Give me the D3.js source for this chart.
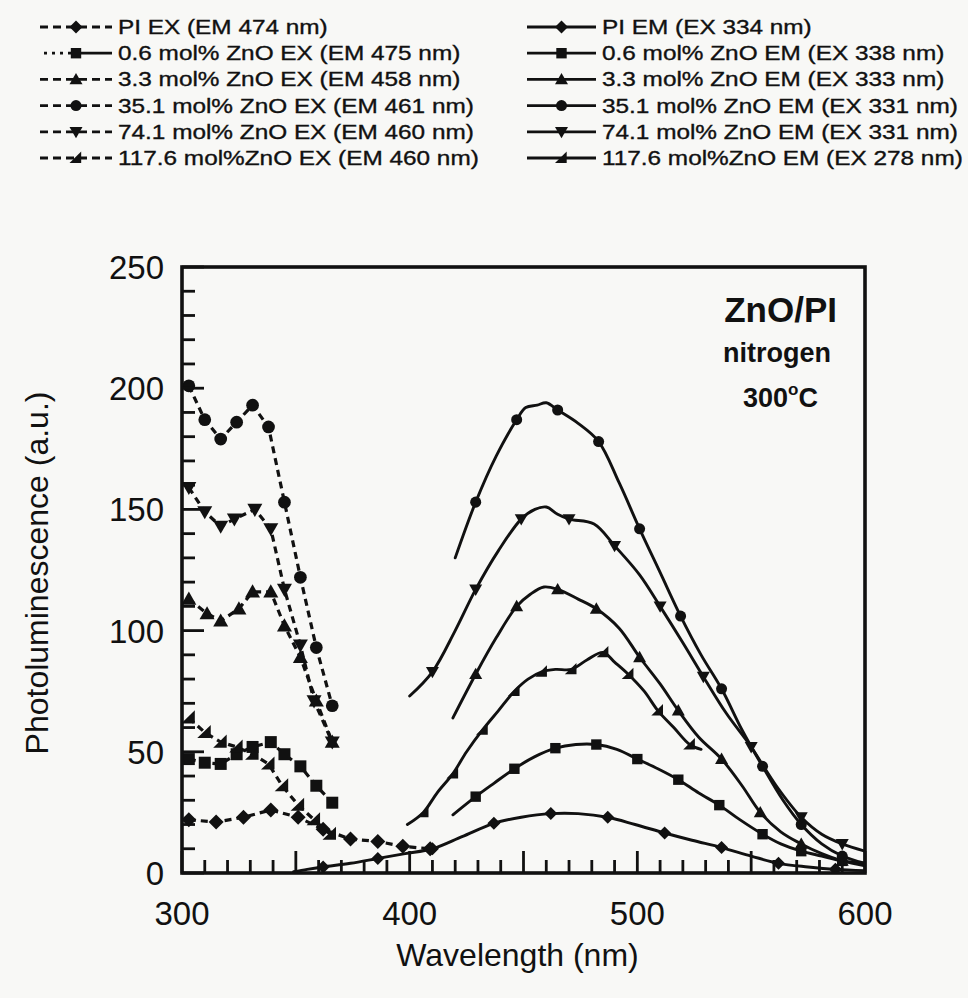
<!DOCTYPE html>
<html>
<head>
<meta charset="utf-8">
<script src="https://cdn.jsdelivr.net/npm/d3@7"></script>
<style>
  html, body { margin: 0; padding: 0; background: #f8f8f6; }
  svg { display: block; font-family: "Liberation Sans", Arial, sans-serif; }
</style>
</head>
<body>
<svg id="chart" width="968" height="998"></svg>
<script>
// excitation spectra (dashed), [wavelength nm, PL a.u.]
var exPI   = [[303,22],[315,21],[327,23],[339,26],[351,23],[362,18],[374,14],[386,13],[397,11],[409,10]];
var ex06   = [[303,47],[310,45.5],[317,45],[324,49],[331,52],[339,54],[345,49],[352,44],[359,36],[366,29]];
var ex33   = [[303,113],[311,107],[317,104],[325,109],[331,116],[339,116],[345,102],[352,89],[359,71],[366,54]];
var ex351  = [[303,201],[310,187],[317,179],[324,186],[331,193],[338,184],[345,153],[352,122],[359,93],[366,69]];
var ex741  = [[303,159],[310,149],[317,143],[323,146],[332,150],[339,142],[345,117],[352,94],[358,71],[366,54]];
var ex1176 = [[303,64],[310,58],[317,54],[324,52],[331,49],[338,45],[344,36],[351,28],[358,22],[365,16]];

// emission spectra (solid), curve points + wavelengths carrying a symbol
var emPI   = [[349,0.5],[355,1.5],[362,2.5],[374,4],[386,6],[398,8],[410,10],[423,15],[437,20.5],[449,23],[462,24.5],[474,24.5],[487,23],[499,20],[512,16.5],[524,13.5],[537,10.5],[550,7],[562,4],[575,2.5],[587,1.5],[600,1]];
var emPImk = [362,386,410,437,462,487,512,537,562,587];
var em06   = [[419,24],[429,31.5],[437,37],[446,43],[455,48],[464,51.5],[473,53],[482,53],[491,51],[500,47],[509,43],[518,38.5],[527,33],[536,28],[545,22],[555,16],[563,12],[572,9],[581,7],[590,5],[600,4]];
var em06mk = [429,446,464,482,500,518,536,555,572,590];
var em33   = [[419,64],[429,82],[438,97],[447,110],[453,115],[459,118],[465,117],[474,113],[482,109],[492,101],[501,89],[510,78],[518,67],[527,56],[537,47],[546,36],[554,25],[563,17],[572,12],[581,8],[590,5],[600,3]];
var em33mk = [429,447,465,482,501,518,537,554,572,590];
var em351  = [[420,130],[429,153],[438,172],[447,187],[451,192],[456,193],[460,194],[465,191],[474,185.5],[483,178],[492,161],[501,142],[510,124],[519,106],[528,90],[537,76],[546,59],[555,44],[564,30],[572,20],[581,12],[590,7],[600,4]];
var em351mk = [429,447,465,483,501,519,537,555,572,590];
var em741  = [[400,73],[410,83],[420,100],[429,117],[439,133],[449,146],[455,150],[460,151],[465,148],[470,146],[481,144],[490,135],[501,123],[510,110],[520,95],[529,81],[539,66],[550,52],[561,36],[572,23],[581,16],[590,12],[600,9]];
var em741mk = [410,429,449,470,490,510,529,550,572,590];
var em1176 = [[399,20],[406,25],[412,33],[419,41],[425,50],[432,59],[439,67],[446,75],[452,80],[458,83],[464,84],[471,84],[478,88],[485,91],[490,87],[496,82],[503,75],[509,67],[516,60],[523,53],[528,51]];
var em1176mk = [406,419,432,446,458,471,485,496,509,523];

var exLabels = ["PI EX (EM 474 nm)", "0.6 mol% ZnO EX (EM 475 nm)", "3.3 mol% ZnO EX (EM 458 nm)",
                "35.1 mol% ZnO EX (EM 461 nm)", "74.1 mol% ZnO EX (EM 460 nm)", "117.6 mol%ZnO EX (EM 460 nm)"];
var emLabels = ["PI EM (EX 334 nm)", "0.6 mol% ZnO EM (EX 338 nm)", "3.3 mol% ZnO EM (EX 333 nm)",
                "35.1 mol% ZnO EM (EX 331 nm)", "74.1 mol% ZnO EM (EX 331 nm)", "117.6 mol%ZnO EM (EX 278 nm)"];
var symbols = ["diamond", "square", "up", "circle", "down", "half"];

var xTicks = [300, 400, 500, 600];
var yTicks = [0, 50, 100, 150, 200, 250];

var exSeries = [exPI, ex06, ex33, ex351, ex741, ex1176];
var emSeries = [emPI, em06, em33, em351, em741, em1176];
var emMarks  = [emPImk, em06mk, em33mk, em351mk, em741mk, em1176mk];

function drawChart() {
    var ink = "#111";
    var svg = d3.select("#chart");
    var pL = 182, pR = 865, pT = 267, pB = 873;

    var x = d3.scaleLinear().domain([300, 600]).range([pL, pR]);
    var y = d3.scaleLinear().domain([0, 250]).range([pB, pT]);

    function symPath(type, r) {
        if (type == "diamond") return "M0," + (-r) + "L" + r + ",0L0," + r + "L" + (-r) + ",0Z";
        if (type == "square") { var s = r * 0.8; return "M" + (-s) + "," + (-s) + "H" + s + "V" + s + "H" + (-s) + "Z"; }
        if (type == "up") return "M0," + (-r) + "L" + r + "," + (r * 0.75) + "L" + (-r) + "," + (r * 0.75) + "Z";
        if (type == "down") return "M0," + r + "L" + r + "," + (-r * 0.75) + "L" + (-r) + "," + (-r * 0.75) + "Z";
        if (type == "half") return "M" + (r * 0.8) + "," + (-r) + "L" + (r * 0.8) + "," + (r * 0.75) + "L" + (-r) + "," + (r * 0.75) + "Z";
        return d3.symbol(d3.symbolCircle, Math.PI * r * r * 0.72)();
    }

    svg.append("defs").append("clipPath").attr("id", "plotclip")
        .append("rect").attr("x", pL).attr("y", pT - 10).attr("width", pR - pL).attr("height", pB - pT + 10);

    var plot = svg.append("g").attr("clip-path", "url(#plotclip)");

    // excitation: dashed lines
    var exLine = d3.line().x(function (d) { return x(d[0]); }).y(function (d) { return y(d[1]); });
    exSeries.forEach(function (s) {
        plot.append("path").attr("d", exLine(s))
            .attr("fill", "none").attr("stroke", ink).attr("stroke-width", 3.2)
            .attr("stroke-dasharray", "7,5");
    });

    // emission: smooth solid lines
    var emLine = d3.line().curve(d3.curveCatmullRom.alpha(0.5))
        .x(function (d) { return x(d[0]); }).y(function (d) { return y(d[1]); });
    emSeries.forEach(function (s) {
        plot.append("path").attr("d", emLine(s))
            .attr("fill", "none").attr("stroke", ink).attr("stroke-width", 2.9)
            .attr("stroke-linejoin", "round").attr("stroke-linecap", "round");
    });

    // symbols
    exSeries.forEach(function (s, i) {
        plot.selectAll(null).data(s).enter().append("path")
            .attr("d", symPath(symbols[i], 7.5))
            .attr("transform", function (d) { return "translate(" + x(d[0]) + "," + y(d[1]) + ")"; })
            .attr("fill", ink);
    });
    emSeries.forEach(function (s, i) {
        var pts = s.filter(function (d) { return emMarks[i].indexOf(d[0]) != -1; });
        plot.selectAll(null).data(pts).enter().append("path")
            .attr("d", symPath(symbols[i], 6.5))
            .attr("transform", function (d) { return "translate(" + x(d[0]) + "," + y(d[1]) + ")"; })
            .attr("fill", ink);
    });

    // frame
    svg.append("rect").attr("x", pL).attr("y", pT).attr("width", pR - pL).attr("height", pB - pT)
        .attr("fill", "none").attr("stroke", ink).attr("stroke-width", 3.6);

    // inward ticks
    var tickG = svg.append("g").attr("stroke", ink).attr("stroke-width", 2.8);
    d3.range(300, 601, 10).forEach(function (t) {
        var len = (t % 50 == 0) ? 22 : 13;
        tickG.append("line").attr("x1", x(t)).attr("x2", x(t)).attr("y1", pB).attr("y2", pB - len);
    });
    d3.range(0, 251, 10).forEach(function (t) {
        var len = (t % 50 == 0) ? 22 : 13;
        tickG.append("line").attr("x1", pL).attr("x2", pL + len).attr("y1", y(t)).attr("y2", y(t));
    });

    // tick labels
    svg.selectAll(".xl").data(xTicks).enter().append("text")
        .attr("x", function (d) { return x(d); }).attr("y", pB + 52)
        .attr("text-anchor", "middle").attr("font-size", 33).attr("fill", ink)
        .text(function (d) { return d; });
    svg.selectAll(".yl").data(yTicks).enter().append("text")
        .attr("x", pL - 18).attr("y", function (d) { return y(d) + 12; })
        .attr("text-anchor", "end").attr("font-size", 33).attr("fill", ink)
        .text(function (d) { return d; });

    // axis titles
    svg.append("text").attr("x", (pL + pR) / 2 - 6).attr("y", 966)
        .attr("text-anchor", "middle").attr("font-size", 32).attr("fill", ink)
        .text("Wavelength (nm)");
    svg.append("text").attr("transform", "translate(48,573) rotate(-90)")
        .attr("text-anchor", "middle").attr("font-size", 32).attr("fill", ink)
        .text("Photoluminescence (a.u.)");

    // annotation
    svg.append("text").attr("x", 837).attr("y", 322).attr("text-anchor", "end")
        .attr("font-size", 35).attr("font-weight", "bold").attr("fill", ink).text("ZnO/PI");
    svg.append("text").attr("x", 831).attr("y", 362).attr("text-anchor", "end")
        .attr("font-size", 27).attr("font-weight", "bold").attr("fill", ink).text("nitrogen");
    var deg = svg.append("text").attr("x", 743).attr("y", 407)
        .attr("font-size", 27).attr("font-weight", "bold").attr("fill", ink);
    deg.append("tspan").text("300");
    deg.append("tspan").attr("font-size", 17).attr("dy", -12).text("o");
    deg.append("tspan").attr("dy", 12).text("C");

    // legend
    function legendRow(cx0, cx1, i, type, dashed, label) {
        var cy = 27 + i * 26.2, mid = (cx0 + cx1) / 2;
        if (!dashed) {
            svg.append("line").attr("x1", cx0).attr("x2", cx1).attr("y1", cy).attr("y2", cy)
                .attr("stroke", ink).attr("stroke-width", 2.8);
        } else if (i == 1) {
            svg.append("line").attr("x1", cx0 + 4).attr("x2", mid).attr("y1", cy).attr("y2", cy)
                .attr("stroke", ink).attr("stroke-width", 2.8).attr("stroke-dasharray", "3,5");
            svg.append("line").attr("x1", mid).attr("x2", cx1).attr("y1", cy).attr("y2", cy)
                .attr("stroke", ink).attr("stroke-width", 2.8);
        } else {
            svg.append("line").attr("x1", cx0).attr("x2", cx1).attr("y1", cy).attr("y2", cy)
                .attr("stroke", ink).attr("stroke-width", 2.8).attr("stroke-dasharray", "8,5");
        }
        svg.append("path").attr("d", symPath(type, 6.5))
            .attr("transform", "translate(" + mid + "," + cy + ")").attr("fill", ink);
        svg.append("text").attr("transform", "translate(" + (cx1 + 6) + "," + (cy + 7) + ") scale(1.2,1)")
            .attr("font-size", 20.3).attr("fill", ink)
            .attr("stroke", ink).attr("stroke-width", 0.35).text(label);
    }
    exLabels.forEach(function (l, i) { legendRow(40, 112, i, symbols[i], true, l); });
    emLabels.forEach(function (l, i) { legendRow(527, 596, i, symbols[i], false, l); });
}
drawChart();
</script>
</body>
</html>
